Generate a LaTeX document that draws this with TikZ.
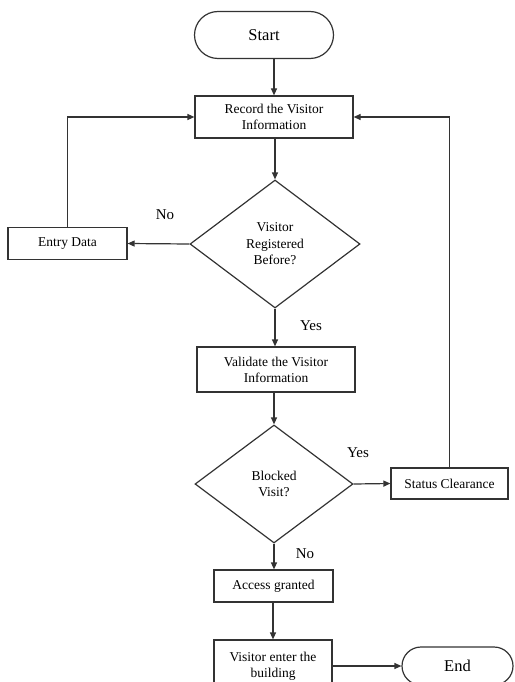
\documentclass[tikz,border=0pt]{standalone}
\usepackage{fontspec}
\setmainfont{Liberation Serif}
\usetikzlibrary{shapes.geometric,shapes.misc,arrows.meta}

\begin{document}
\begin{tikzpicture}[x=1pt,y=-1pt,
  box/.style={draw=black!80,line width=1.2pt,rectangle,align=center,inner sep=0pt,font=\fontsize{13.5}{16}\selectfont},
  term/.style={draw=black!80,line width=1.2pt,rounded rectangle,inner sep=0pt,font=\fontsize{16.5}{19}\selectfont},
  decision/.style={draw=black!80,line width=1.2pt,diamond,align=center,inner sep=0pt,font=\fontsize{13.5}{16.5}\selectfont},
  flow/.style={draw=black!80,line width=1.2pt,-{Triangle[length=7pt,width=6pt]}},
  lbl/.style={font=\fontsize{15}{17}\selectfont}]
\useasboundingbox (0,0) rectangle (514,682);
\clip (0,0) rectangle (514,682);

%%%%%%%%%%% blocs
\node[term, minimum width=139, minimum height=47] (start) at (264,35) {Start};
\node[box, minimum width=158, minimum height=42] (rec) at (274,117) {Record the Visitor\\Information};
\node[decision, minimum width=170, minimum height=128] (reg) at (275,244) {Visitor\\Registered\\Before?};
\node[box, minimum width=119, minimum height=32] (entry) at (67.5,243.5) {Entry Data};
\node[box, minimum width=158, minimum height=45] (val) at (276,369.5) {Validate the Visitor\\Information};
\node[decision, minimum width=158, minimum height=118] (blk) at (274,484) {Blocked\\Visit?};
\node[box, minimum width=117, minimum height=31] (clr) at (449.5,483.5) {Status Clearance};
\node[box, minimum width=119, minimum height=32] (acc) at (273.5,586) {Access granted};
\node[box, minimum width=118, minimum height=52] (visit) at (273,666) {Visitor enter the\\building};
\node[term, minimum width=111, minimum height=38] (end) at (457.5,666) {End};

%%%%%%%%%%% liaisons
% ---------------    haut
\draw[flow] (start.south -| rec.north) -- (rec.north);
\draw[flow] (rec.south -| reg.north) -- (reg.north);
% ---------------    non
\draw[flow] (reg.west) -- (entry.east);
\draw[flow] (entry.north) |- (rec.west);
% ---------------    oui
\draw[flow] (reg.south) -- (reg.south |- val.north);
\draw[flow] (val.south -| blk.north) -- (blk.north);
\draw[flow] (blk.east) -- (clr.west);
\draw[flow] (clr.north) |- (rec.east);
% ---------------    bas
\draw[flow] (blk.south) -- (blk.south |- acc.north);
\draw[flow] (acc.south -| visit.north) -- (visit.north);
\draw[flow] (visit.east) -- (end.west);

\node[lbl] (no1) at (165,215) {No};
\node[lbl] (yes1) at (311,326) {Yes};
\node[lbl] (yes2) at (358,453) {Yes};
\node[lbl] (no2) at (305,554) {No};
\end{tikzpicture}
\end{document}
